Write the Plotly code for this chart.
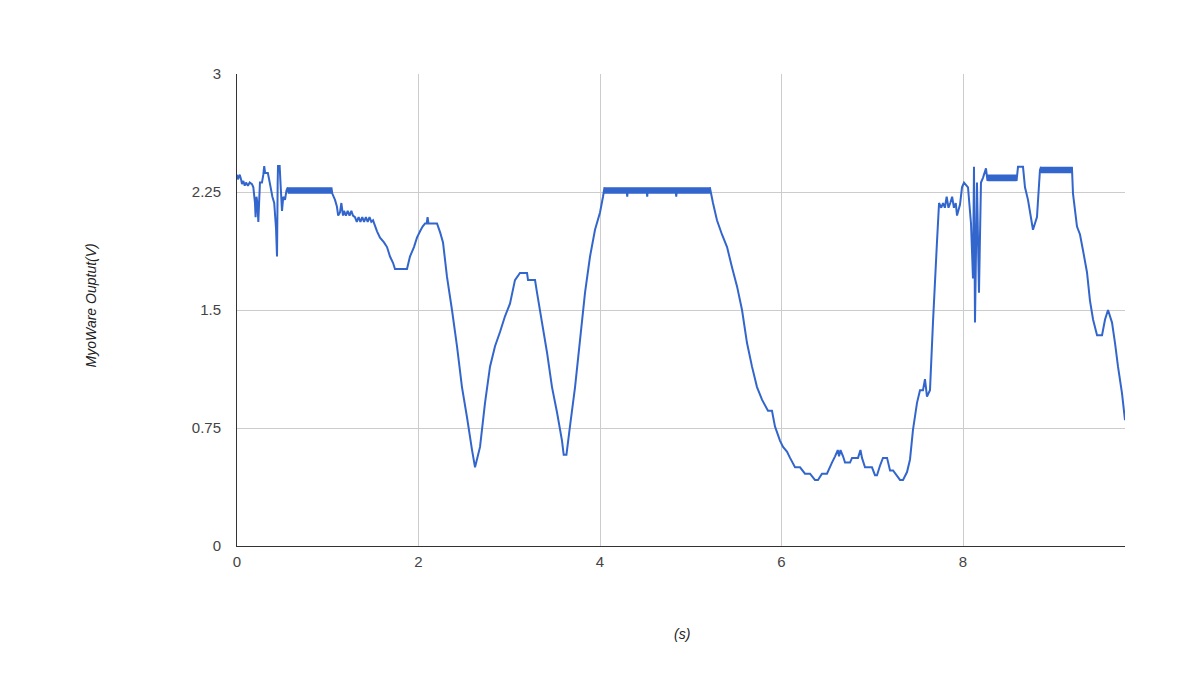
import plotly.graph_objects as go

# Time (s) and MyoWare output (V)
time_s = [
    0.00, 0.01, 0.03, 0.045, 0.055, 0.07, 0.085, 0.10, 0.12, 0.14, 0.165, 0.18,
    0.198, 0.205, 0.215, 0.225, 0.235, 0.245, 0.253, 0.275, 0.29, 0.30, 0.31, 0.34,
    0.364, 0.39, 0.41, 0.43, 0.441, 0.448, 0.452, 0.47, 0.48, 0.496, 0.51, 0.529, 0.545,
    0.56, 0.57, 0.58, 0.59, 0.60, 0.61, 0.62, 0.63, 0.64, 0.65,
    0.66, 0.67, 0.68, 0.69, 0.70, 0.71, 0.72, 0.73, 0.74, 0.75,
    0.76, 0.77, 0.78, 0.79, 0.80, 0.81, 0.82, 0.83, 0.84, 0.85,
    0.86, 0.87, 0.88, 0.89, 0.90, 0.91, 0.92, 0.93, 0.94, 0.95,
    0.96, 0.97, 0.98, 0.99, 1.00, 1.01, 1.02, 1.03, 1.04, 1.05,
    1.08, 1.10, 1.115, 1.135, 1.15, 1.168, 1.18, 1.20, 1.22, 1.24, 1.26, 1.278,
    1.30, 1.32, 1.34, 1.36, 1.38, 1.40, 1.42, 1.44, 1.46, 1.48, 1.499,
    1.543, 1.576, 1.62, 1.653, 1.686, 1.719, 1.741, 1.80, 1.873, 1.906, 1.95, 1.983,
    2.017, 2.045, 2.072, 2.09, 2.10, 2.11, 2.204, 2.24, 2.27, 2.314, 2.369, 2.424,
    2.479, 2.534, 2.59, 2.623, 2.678, 2.733, 2.788, 2.843, 2.898, 2.953, 3.008, 3.063,
    3.118, 3.196, 3.207, 3.284, 3.306, 3.361, 3.416, 3.471, 3.526, 3.581, 3.60, 3.63,
    3.669, 3.725, 3.78, 3.835, 3.89, 3.945, 4.00, 4.033,
    4.05, 4.06, 4.07, 4.08, 4.09, 4.10, 4.11, 4.12, 4.13, 4.14,
    4.15, 4.16, 4.17, 4.18, 4.19, 4.20, 4.21, 4.22, 4.23, 4.24,
    4.25, 4.26, 4.27, 4.28, 4.29, 4.30, 4.31, 4.32, 4.33, 4.34,
    4.35, 4.36, 4.37, 4.38, 4.39, 4.40, 4.41, 4.42, 4.43, 4.44,
    4.45, 4.46, 4.47, 4.48, 4.49, 4.50, 4.51, 4.52, 4.53, 4.54,
    4.55, 4.56, 4.57, 4.58, 4.59, 4.60, 4.61, 4.62, 4.63, 4.64,
    4.65, 4.66, 4.67, 4.68, 4.69, 4.70, 4.71, 4.72, 4.73, 4.74,
    4.75, 4.76, 4.77, 4.78, 4.79, 4.80, 4.81, 4.82, 4.83, 4.84,
    4.85, 4.86, 4.87, 4.88, 4.89, 4.90, 4.91, 4.92, 4.93, 4.94,
    4.95, 4.96, 4.97, 4.98, 4.99, 5.00, 5.01, 5.02, 5.03, 5.04,
    5.05, 5.06, 5.07, 5.08, 5.09, 5.10, 5.11, 5.12, 5.13, 5.14,
    5.15, 5.16, 5.17, 5.18, 5.19, 5.20, 5.21,
    5.245, 5.289, 5.344, 5.40, 5.455, 5.51, 5.565, 5.62, 5.675, 5.73, 5.785, 5.851,
    5.895, 5.928, 5.983, 6.017, 6.06, 6.094, 6.149, 6.204, 6.259, 6.314, 6.369, 6.402,
    6.446, 6.501, 6.556, 6.59, 6.62, 6.634, 6.65, 6.678, 6.70, 6.755, 6.777, 6.843,
    6.87, 6.887, 6.92, 6.997, 7.03, 7.052, 7.085, 7.118, 7.163, 7.196, 7.229, 7.306,
    7.339, 7.383, 7.416, 7.449, 7.493, 7.526, 7.559, 7.581, 7.603, 7.636, 7.669, 7.713,
    7.736, 7.76, 7.78, 7.80, 7.82, 7.84, 7.86, 7.88, 7.90, 7.92, 7.934,
    7.967, 7.989, 8.011, 8.055, 8.088, 8.11, 8.121, 8.132, 8.154, 8.176, 8.198, 8.22,
    8.253,
    8.27, 8.28, 8.29, 8.30, 8.31, 8.32, 8.33, 8.34, 8.35, 8.36,
    8.37, 8.38, 8.39, 8.40, 8.41, 8.42, 8.43, 8.44, 8.45, 8.46,
    8.47, 8.48, 8.49, 8.50, 8.51, 8.52, 8.53, 8.54, 8.55, 8.56,
    8.57, 8.58, 8.59,
    8.606, 8.661, 8.683, 8.716, 8.771, 8.815, 8.848,
    8.86, 8.87, 8.88, 8.89, 8.90, 8.91, 8.92, 8.93, 8.94, 8.95,
    8.96, 8.97, 8.98, 8.99, 9.00, 9.01, 9.02, 9.03, 9.04, 9.05,
    9.06, 9.07, 9.08, 9.09, 9.10, 9.11, 9.12, 9.13, 9.14, 9.15,
    9.16, 9.17, 9.18, 9.19, 9.20,
    9.212, 9.256, 9.289, 9.322, 9.366, 9.399, 9.433, 9.477, 9.532, 9.565, 9.598, 9.642,
    9.675, 9.708, 9.752, 9.785,
]

output_v = [
    2.36, 2.33, 2.36, 2.33, 2.30, 2.32, 2.29, 2.31, 2.29, 2.31, 2.30, 2.28,
    2.18, 2.09, 2.22, 2.18, 2.06, 2.20, 2.31, 2.31, 2.36, 2.415, 2.37, 2.37,
    2.30, 2.22, 2.18, 2.02, 1.84, 2.30, 2.415, 2.415, 2.30, 2.13, 2.22, 2.20, 2.26,
    2.28, 2.24, 2.28, 2.24, 2.28, 2.24, 2.28, 2.24, 2.28, 2.24,
    2.28, 2.24, 2.28, 2.24, 2.28, 2.24, 2.28, 2.24, 2.28, 2.24,
    2.28, 2.24, 2.28, 2.24, 2.28, 2.24, 2.28, 2.24, 2.28, 2.24,
    2.28, 2.24, 2.28, 2.24, 2.28, 2.24, 2.28, 2.24, 2.28, 2.24,
    2.28, 2.24, 2.28, 2.24, 2.28, 2.24, 2.28, 2.24, 2.28, 2.24,
    2.20, 2.16, 2.10, 2.12, 2.18, 2.10, 2.13, 2.10, 2.13, 2.10, 2.13, 2.10,
    2.09, 2.06, 2.09, 2.06, 2.09, 2.06, 2.09, 2.06, 2.09, 2.06, 2.07,
    2.00, 1.96, 1.93, 1.90, 1.84, 1.80, 1.76, 1.76, 1.76, 1.84, 1.90, 1.96,
    2.00, 2.03, 2.05, 2.05, 2.09, 2.05, 2.05, 1.99, 1.93, 1.71, 1.50, 1.27,
    1.01, 0.82, 0.61, 0.50, 0.63, 0.91, 1.14, 1.27, 1.36, 1.46, 1.54, 1.69,
    1.735, 1.735, 1.69, 1.69, 1.61, 1.42, 1.23, 1.01, 0.85, 0.67, 0.58, 0.58,
    0.76, 1.01, 1.31, 1.61, 1.84, 2.01, 2.12, 2.22,
    2.28, 2.24, 2.28, 2.24, 2.28, 2.24, 2.28, 2.24, 2.28, 2.24,
    2.28, 2.24, 2.28, 2.24, 2.28, 2.24, 2.28, 2.24, 2.28, 2.24,
    2.28, 2.24, 2.28, 2.24, 2.28, 2.22, 2.28, 2.24, 2.28, 2.24,
    2.28, 2.24, 2.28, 2.24, 2.28, 2.24, 2.28, 2.24, 2.28, 2.24,
    2.28, 2.24, 2.28, 2.24, 2.28, 2.24, 2.28, 2.22, 2.28, 2.24,
    2.28, 2.24, 2.28, 2.24, 2.28, 2.24, 2.28, 2.24, 2.28, 2.24,
    2.28, 2.24, 2.28, 2.24, 2.28, 2.24, 2.28, 2.24, 2.28, 2.24,
    2.28, 2.24, 2.28, 2.24, 2.28, 2.24, 2.28, 2.24, 2.28, 2.22,
    2.28, 2.24, 2.28, 2.24, 2.28, 2.24, 2.28, 2.24, 2.28, 2.24,
    2.28, 2.24, 2.28, 2.24, 2.28, 2.24, 2.28, 2.24, 2.28, 2.24,
    2.28, 2.24, 2.28, 2.24, 2.28, 2.24, 2.28, 2.24, 2.28, 2.24,
    2.28, 2.24, 2.28, 2.24, 2.28, 2.24, 2.28,
    2.18, 2.07, 1.98, 1.90, 1.77, 1.65, 1.50, 1.29, 1.14, 1.01, 0.93, 0.86,
    0.86, 0.76, 0.67, 0.63, 0.60, 0.56, 0.50, 0.50, 0.46, 0.46, 0.42, 0.42,
    0.46, 0.46, 0.53, 0.57, 0.61, 0.57, 0.61, 0.57, 0.53, 0.53, 0.56, 0.56,
    0.61, 0.56, 0.50, 0.50, 0.45, 0.45, 0.51, 0.56, 0.56, 0.48, 0.48, 0.42,
    0.42, 0.47, 0.55, 0.74, 0.91, 0.99, 0.99, 1.06, 0.95, 0.99, 1.42, 1.93,
    2.18, 2.15, 2.18, 2.15, 2.22, 2.15, 2.18, 2.22, 2.15, 2.18, 2.10,
    2.17, 2.28, 2.31, 2.28, 2.05, 1.70, 2.41, 1.42, 2.31, 1.61, 2.31, 2.34,
    2.40,
    2.32, 2.36, 2.32, 2.36, 2.32, 2.36, 2.32, 2.36, 2.32, 2.36,
    2.32, 2.36, 2.32, 2.36, 2.32, 2.36, 2.32, 2.36, 2.32, 2.36,
    2.32, 2.36, 2.32, 2.36, 2.32, 2.36, 2.32, 2.36, 2.32, 2.36,
    2.32, 2.36, 2.32,
    2.41, 2.41, 2.28, 2.20, 2.01, 2.09, 2.39,
    2.41, 2.37, 2.41, 2.37, 2.41, 2.37, 2.41, 2.37, 2.41, 2.37,
    2.41, 2.37, 2.41, 2.37, 2.41, 2.37, 2.41, 2.37, 2.41, 2.37,
    2.41, 2.37, 2.41, 2.37, 2.41, 2.37, 2.41, 2.37, 2.41, 2.37,
    2.41, 2.37, 2.41, 2.37, 2.41,
    2.24, 2.03, 1.98, 1.88, 1.74, 1.56, 1.44, 1.34, 1.34, 1.44, 1.50, 1.42,
    1.29, 1.14, 0.97, 0.80,
]

x_ticks = [0, 2, 4, 6, 8]
y_ticks = [0, 0.75, 1.5, 2.25, 3]
y_tick_labels = ["0", "0.75", "1.5", "2.25", "3"]
x_title = "(s)"
y_title = "MyoWare Ouptut(V)"

FONT = "Liberation Sans, Arial, sans-serif"

# plot area in page pixels (reference): x 237..1125, y 74..546
PL, PR, PT, PB = 237, 1125, 74, 546
PW, PH = PR - PL, PB - PT

fig = go.Figure()
fig.add_trace(go.Scatter(
    x=time_s, y=output_v, mode="lines",
    line=dict(color="#3366CC", width=2, simplify=False),
    showlegend=False, hoverinfo="x+y",
))

# page body has an 8px margin, so shift the figure margins accordingly
fig.update_layout(
    width=1200, height=675,
    margin=dict(l=PL - 8, r=1208 - PR, t=PT - 8, b=683 - PB),
    paper_bgcolor="white", plot_bgcolor="white",
    font=dict(family=FONT, size=15, color="#444444"),
    xaxis=dict(
        range=[0, 9.785], tickvals=x_ticks, ticktext=[str(v) for v in x_ticks],
        showgrid=True, gridcolor="#cccccc", gridwidth=1,
        zeroline=False, showline=True, linecolor="#333333", linewidth=1,
        ticks="", ticklabelstandoff=2,
        tickfont=dict(family=FONT, size=15, color="#444444"),
    ),
    yaxis=dict(
        range=[0, 3], tickvals=y_ticks, ticktext=y_tick_labels,
        showgrid=True, gridcolor="#cccccc", gridwidth=1,
        zeroline=False, showline=True, linecolor="#333333", linewidth=1,
        ticks="", ticklabelstandoff=12,
        tickfont=dict(family=FONT, size=15, color="#444444"),
    ),
    annotations=[
        dict(text="<i>" + x_title + "</i>", xref="paper", yref="paper",
             x=(682 - PL) / PW, y=-(634 - PB) / PH, showarrow=False,
             xanchor="center", yanchor="middle",
             font=dict(family=FONT, size=14, color="#222222")),
        dict(text="<i>" + y_title + "</i>", xref="paper", yref="paper",
             x=-(PL - 90) / PW, y=(PB - 305.5) / PH, showarrow=False,
             textangle=-90, xanchor="center", yanchor="middle",
             font=dict(family=FONT, size=14, color="#222222")),
    ],
)

fig.write_html("out.html")
